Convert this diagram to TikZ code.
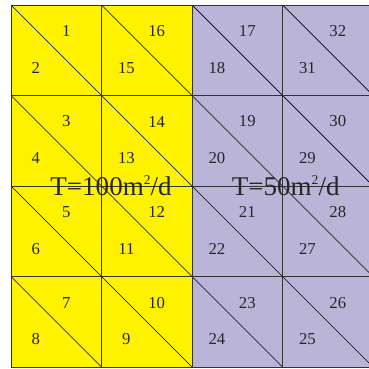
\documentclass[tikz,border=0pt]{standalone}
\usepackage{fontspec}
\setmainfont{Liberation Serif}
\usetikzlibrary{positioning}
\definecolor{zoneyellow}{RGB}{255,242,0}
\definecolor{zonelilac}{RGB}{186,181,216}
\newcommand{\sqm}{m\raisebox{0.85ex}{\fontsize{8.5}{9}\selectfont 2}}

\begin{document}
\begin{tikzpicture}[
  cellline/.style={draw=black!80, line width=0.6pt},
  diag/.style={draw=black, line width=0.4pt},
  num/.style={font=\fontsize{10.5}{12}\selectfont, text=black!85, inner sep=0pt},
  zone/.style={font=\fontsize{17}{20}\selectfont, text=black!85, inner sep=0pt}
]
\useasboundingbox (-0.243,-0.022) rectangle (7.91,8.11);
\clip (-0.243,-0.022) rectangle (7.91,8.11);

% ── Two zones ──
\fill[zoneyellow] (0,0) rectangle (4,8);
\fill[zonelilac] (4,0) rectangle (8,8);

% ── Diagonals ──
\foreach \i in {0,...,3}
  \foreach \j in {0,...,3}
    \draw[diag] (2*\i,2*\j+2) -- (2*\i+2,2*\j);

% ── Grid ──
\draw[cellline] (0,0) grid[step=2] (8,8);

% ── Cell numbers ──
\foreach \col/\row/\up/\low in {0/0/1/2, 0/1/3/4, 0/2/5/6, 0/3/7/8,
    1/0/16/15, 1/1/14/13, 1/2/12/11, 1/3/10/9,
    2/0/17/18, 2/1/19/20, 2/2/21/22, 2/3/23/24,
    3/0/32/31, 3/1/30/29, 3/2/28/27, 3/3/26/25} {
  \node[num] (n\up) at (2*\col+1.22, 8-2*\row-0.575) {\up};
  \node[num] (n\low) at (2*\col+0.55, 8-2*\row-1.39) {\low};
}

% ── Transmissivity labels ──
\node[zone, anchor=base] (tleft) at (2.21,3.80) {T=100\sqm/d};
\node[zone, anchor=base] (tright) at (6.07,3.80) {T=50\sqm/d};

\end{tikzpicture}
\end{document}
